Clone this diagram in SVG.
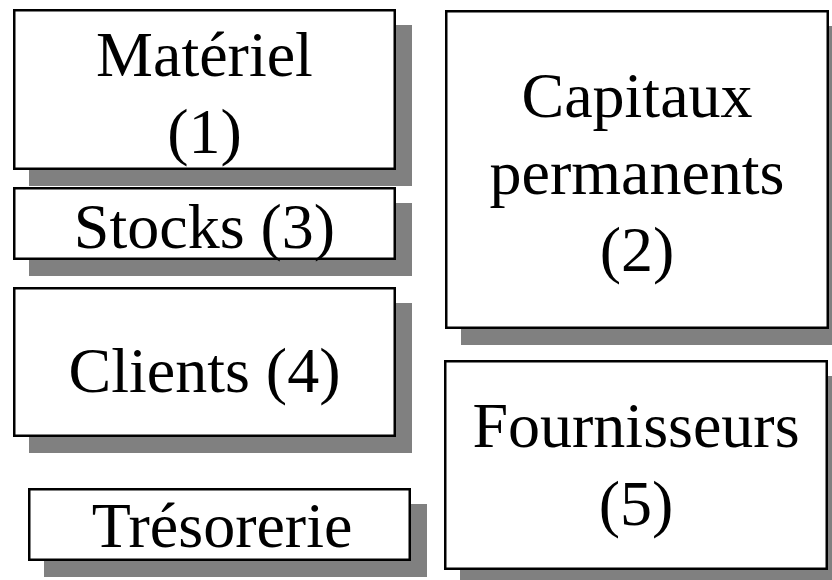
<svg xmlns="http://www.w3.org/2000/svg" width="832" height="580" viewBox="0 0 832 580">
<style>
.shadow{fill:#808080;stroke:none}
.box{fill:#ffffff;stroke:#000000;stroke-width:2.5}
.lbl{font-family:"Liberation Serif","Times New Roman",serif;font-size:64px;fill:#000000;text-anchor:middle}
</style>
<rect width="832" height="580" fill="#ffffff"/>
<g id="connectors"></g>
<g id="materiel">
<rect class="shadow" x="29" y="25" width="383" height="161"/>
<rect class="box" x="14.25" y="10.25" width="380.5" height="158.5"/>
<text class="lbl" x="204.5" y="76">Matériel</text>
<text class="lbl" x="204.5" y="153">(1)</text>
</g>
<g id="stocks">
<rect class="shadow" x="29" y="203" width="383" height="73"/>
<rect class="box" x="14.25" y="188.25" width="380.5" height="70.5"/>
<text class="lbl" x="204.5" y="248">Stocks (3)</text>
</g>
<g id="clients">
<rect class="shadow" x="29" y="303" width="383" height="150"/>
<rect class="box" x="14.25" y="288.25" width="380.5" height="147.5"/>
<text class="lbl" x="204.5" y="392">Clients (4)</text>
</g>
<g id="tresorerie">
<rect class="shadow" x="44" y="504" width="383" height="73"/>
<rect class="box" x="29.25" y="489.25" width="380.5" height="70.5"/>
<text class="lbl" x="222" y="547">Trésorerie</text>
</g>
<g id="capitaux">
<rect class="shadow" x="461" y="26" width="384" height="319"/>
<rect class="box" x="446.25" y="11.25" width="381.5" height="316.5"/>
<text class="lbl" x="637" y="117">Capitaux</text>
<text class="lbl" x="637" y="194">permanents</text>
<text class="lbl" x="637" y="271">(2)</text>
</g>
<g id="fournisseurs">
<rect class="shadow" x="460" y="376" width="384" height="210"/>
<rect class="box" x="445.25" y="361.25" width="381.5" height="207.5"/>
<text class="lbl" x="636" y="447">Fournisseurs</text>
<text class="lbl" x="636" y="525">(5)</text>
</g>
</svg>
